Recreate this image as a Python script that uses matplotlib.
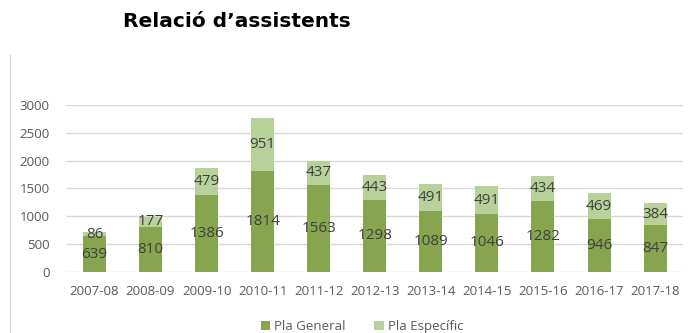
import matplotlib.pyplot as plt
from matplotlib.lines import Line2D
import numpy as np

years = ['2007-08', '2008-09', '2009-10', '2010-11', '2011-12', '2012-13',
         '2013-14', '2014-15', '2015-16', '2016-17', '2017-18']
pla_general = [639, 810, 1386, 1814, 1563, 1298, 1089, 1046, 1282, 946, 847]
pla_especific = [86, 177, 479, 951, 437, 443, 491, 491, 434, 469, 384]

dark_green = '#87a54f'
light_green = '#b8d19b'
text_grey = '#404040'

plt.rcParams['font.family'] = ['Open Sans', 'DejaVu Sans']

fig = plt.figure(figsize=(6.96, 3.33), dpi=100)
ax = fig.add_axes([0.0955, 0.183, 0.886, 0.502])

x = np.arange(len(years))
b1 = ax.bar(x, pla_general, width=0.41, color=dark_green, label='Pla General', zorder=3)
b2 = ax.bar(x, pla_especific, width=0.41, bottom=pla_general, color=light_green,
            label='Pla Específic', zorder=3)

# value labels centred in each segment
for i in range(len(years)):
    ax.text(x[i], pla_general[i] / 2, str(pla_general[i]), ha='center', va='center',
            fontsize=11, color=text_grey, zorder=4)
    ax.text(x[i], pla_general[i] + pla_especific[i] / 2, str(pla_especific[i]),
            ha='center', va='center', fontsize=11, color=text_grey, zorder=4)

ax.set_xlim(-0.5, len(years) - 0.5)
ax.set_ylim(0, 3000)
ax.set_yticks(range(0, 3001, 500))
ax.set_xticks(x)
ax.set_xticklabels(years)
ax.grid(axis='y', color='#d9d9d9', linewidth=1, zorder=0)
for s in ax.spines.values():
    s.set_visible(False)
ax.tick_params(length=0, labelsize=9.5, labelcolor='#595959')
ax.tick_params(axis='x', pad=9)
ax.tick_params(axis='y', pad=12)

fig.text(0.341, 0.934, 'Relació d’assistents', fontsize=14.5, fontweight='bold',
         family='DejaVu Sans', ha='center', va='center', color='black')

fig.legend(handles=[b1, b2], loc='center', bbox_to_anchor=(0.52, 0.02), ncol=2,
           frameon=False, fontsize=9.5, handlelength=0.7, handleheight=0.7,
           handletextpad=0.3, columnspacing=2.2, labelcolor='#595959')

fig.add_artist(Line2D([0.0145, 0.0145], [0.0, 0.835], transform=fig.transFigure,
                      color='#d9d9d9', linewidth=1))

fig.savefig('out.png', dpi=100)
